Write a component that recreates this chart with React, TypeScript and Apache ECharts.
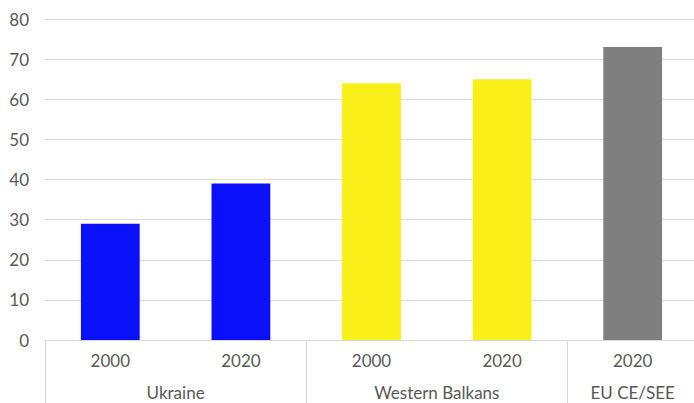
import React, { useEffect, useRef } from "react";
import * as echarts from "echarts";

const years = ["2000", "2020", "2000", "2020", "2020"];
const groups = ["Ukraine", "Western Balkans", "EU CE/SEE"];
const groupCenters = [1, 3, 4.5];
const groupBounds = [0, 2, 4, 5];
const values = [29, 39, 64, 65, 73];
const barColors = ["#0b10fb", "#0b10fb", "#f9f01a", "#f9f01a", "#7f7f7f"];
const yTicks = [0, 10, 20, 30, 40, 50, 60, 70, 80];

const FONT = "Lato, 'Open Sans', sans-serif";
const TEXT = "#595959";
const LINE = "#d9d9d9";

export default function App() {
  const ref = useRef<HTMLDivElement>(null);
  useEffect(() => {
    if (!ref.current) return;
    const chart = echarts.init(ref.current, undefined, { renderer: "svg" });
    chart.setOption({
      animation: false,
      textStyle: { fontFamily: FONT },
      grid: {
        left: 45,
        top: 19,
        width: 653,
        height: 321,
        containLabel: false,
        outerBoundsMode: "none",
      },
      xAxis: [
        {
          type: "category",
          data: years,
          position: "bottom",
          axisLine: { show: true, lineStyle: { color: LINE, width: 1 } },
          axisTick: { show: false },
          axisLabel: { color: TEXT, fontSize: 17, fontFamily: FONT, margin: 12 },
          splitLine: { show: false },
        },
        {
          type: "value",
          min: 0,
          max: 5,
          position: "bottom",
          axisLine: { show: false },
          axisTick: {
            show: true,
            customValues: groupBounds,
            length: 70,
            lineStyle: { color: LINE, width: 1 },
          },
          axisLabel: {
            show: true,
            customValues: groupCenters,
            color: TEXT,
            fontSize: 17,
            fontFamily: FONT,
            margin: 44,
            formatter: (v: number) => {
              const i = groupCenters.indexOf(v);
              return i >= 0 ? groups[i] : "";
            },
          },
          splitLine: { show: false },
        },
      ],
      yAxis: {
        type: "value",
        min: yTicks[0],
        max: yTicks[yTicks.length - 1],
        interval: 10,
        axisLine: { show: false },
        axisTick: { show: false },
        axisLabel: { color: TEXT, fontSize: 17, fontFamily: FONT, margin: 16 },
        splitLine: { show: true, lineStyle: { color: LINE, width: 1 } },
      },
      series: [
        {
          type: "bar",
          xAxisIndex: 0,
          barWidth: "45%",
          data: values.map((v, i) => ({ value: v, itemStyle: { color: barColors[i] } })),
        },
      ],
    });
    return () => chart.dispose();
  }, []);
  return (
    <div
      ref={ref}
      style={{ position: "fixed", left: 0, top: 0, width: 694, height: 403, background: "#fff" }}
    />
  );
}
